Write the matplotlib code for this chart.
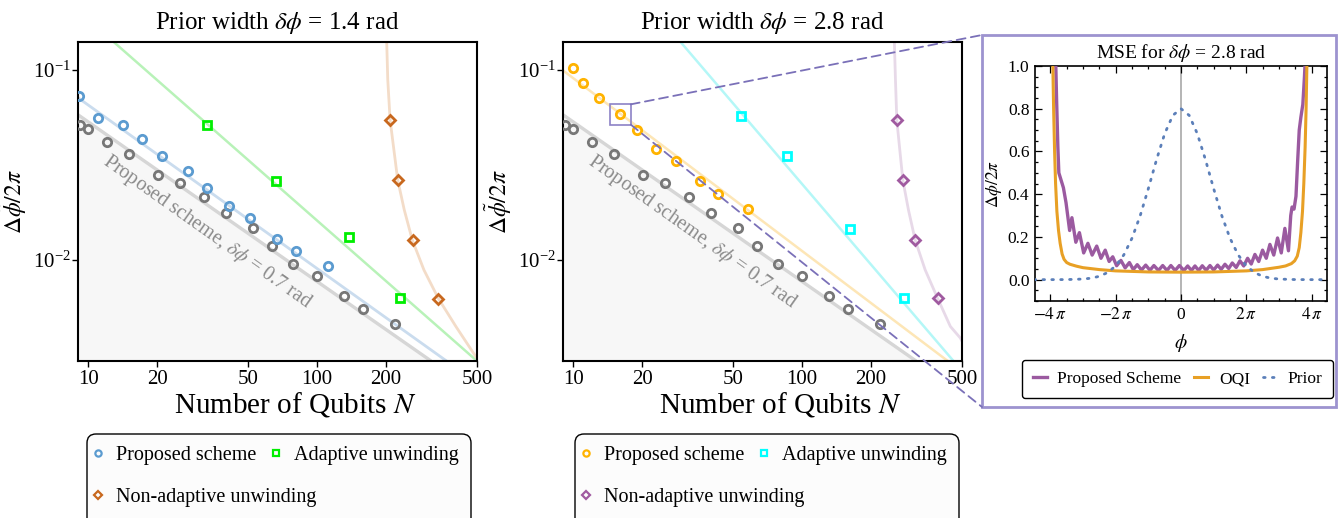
import numpy as np
import matplotlib
matplotlib.use("Agg")
import matplotlib.pyplot as plt
from matplotlib.lines import Line2D
from matplotlib.patches import Rectangle, FancyBboxPatch, ConnectionPatch
from matplotlib.transforms import IdentityTransform
import matplotlib.ticker as mt

plt.rcParams['font.family'] = ['Liberation Serif', 'DejaVu Serif']
plt.rcParams['mathtext.fontset'] = 'stix'

# ---------------- data: left panel (prior width 1.4 rad) ----------------
gray_N = [9.14, 10.0, 12.06, 15.1, 20.1, 25.1, 32.0, 39.9, 52.4, 63.4, 78.8, 100, 130.9, 158.9, 219]
gray_y = [0.0514, 0.0488, 0.0416, 0.0360, 0.0278, 0.0254, 0.0214, 0.0177, 0.0147, 0.0119,
          0.00953, 0.00826, 0.00647, 0.00554, 0.00460]
gray_line_N = [9.0, 315]
gray_line_y = [0.058, 0.00294]

blue_N = [9.1, 11.0, 14.1, 17.1, 21.0, 27.2, 33.1, 41.1, 51.0, 66.8, 80.7, 111]
blue_y = [0.0730, 0.0561, 0.0512, 0.0430, 0.0354, 0.0295, 0.0240, 0.0192, 0.0167, 0.0129, 0.0112, 0.00927]
blue_line_N = [9.04, 368]
blue_line_y = [0.0710, 0.00294]

green_N = [33.1, 65.8, 137.5, 229.7]
green_y = [0.0512, 0.0260, 0.0132, 0.00631]
green_line_N = [12.9, 500]
green_line_y = [0.140, 0.00294]

orange_N = [207.7, 225, 261.7, 338.6]
orange_y = [0.0546, 0.0264, 0.0127, 0.00626]
orange_curve_N = [201.2, 201.5, 203.6, 208.4, 225, 240.4, 260.6, 293, 338.6, 404.6, 494]
orange_curve_y = [0.16, 0.1382, 0.0886, 0.0546, 0.02636, 0.01833, 0.01274, 0.00886, 0.00628, 0.00446, 0.0031]

# ---------------- data: right panel (prior width 2.8 rad) ----------------
yellow_N = [10.0, 11.03, 12.96, 16.0, 18.97, 22.9, 28.0, 35.8, 43.0, 57.9]
yellow_y = [0.1019, 0.0855, 0.0707, 0.0588, 0.0481, 0.0382, 0.0332, 0.0259, 0.0223, 0.0185]
yellow_line_N = [9.0, 430]
yellow_line_y = [0.0992, 0.00296]

cyan_N = [53.8, 85.7, 162.4, 280]
cyan_y = [0.0569, 0.0352, 0.01455, 0.00632]
cyan_line_N = [29.4, 459]
cyan_line_y = [0.140, 0.00294]

purple_N = [259.4, 277.3, 312, 391]
purple_y = [0.0542, 0.0263, 0.0127, 0.00628]
purple_curve_N = [253.0, 253.2, 255.9, 259.4, 275.6, 291.7, 312, 345, 391, 444.6, 492, 520]
purple_curve_y = [0.16, 0.1368, 0.0879, 0.0542, 0.02627, 0.0183, 0.01273, 0.00887, 0.00629, 0.00447, 0.00388, 0.0034]

x_ticks = [10, 20, 50, 100, 200, 500]
x_tick_labels = ['10', '20', '50', '100', '200', '500']

# ---------------- data: inset (MSE, x in units of pi) ----------------
prop_x = [-3.84, -3.81, -3.77, -3.74, -3.68, -3.60, -3.52, -3.41, -3.34, -3.22, -3.11, -2.98, -2.85,
          -2.72, -2.58, -2.45, -2.32, -2.20, -2.09, -1.97, -1.84, -1.71, -1.58, -1.46, -1.34, -1.21,
          -1.08, -0.95, -0.83, -0.69, -0.56, -0.43, -0.31, -0.18, -0.05,
          0.09, 0.204, 0.32, 0.428, 0.54, 0.652, 0.77, 0.887, 1.00, 1.121, 1.23, 1.346, 1.46, 1.570,
          1.69, 1.805, 1.92, 2.039, 2.15, 2.263, 2.38, 2.497, 2.61, 2.722, 2.84, 2.956, 3.07, 3.18,
          3.29, 3.36, 3.40, 3.46, 3.52, 3.57, 3.62, 3.67, 3.73, 3.78, 3.81]
prop_y = [1.05, 0.85, 0.62, 0.50, 0.47, 0.43, 0.36, 0.23, 0.29, 0.175, 0.22, 0.125, 0.17,
          0.115, 0.157, 0.10, 0.138, 0.085, 0.107, 0.065, 0.090, 0.055, 0.080, 0.047, 0.070, 0.045,
          0.068, 0.044, 0.066, 0.043, 0.066, 0.043, 0.066, 0.043, 0.066,
          0.043, 0.064, 0.043, 0.064, 0.043, 0.065, 0.044, 0.066, 0.045, 0.068, 0.048, 0.072, 0.052,
          0.078, 0.057, 0.088, 0.064, 0.10, 0.073, 0.118, 0.085, 0.138, 0.10, 0.165, 0.115, 0.195,
          0.125, 0.24, 0.135, 0.30, 0.34, 0.33, 0.39, 0.55, 0.70, 0.76, 0.82, 0.95, 1.05]

oqi_x = [-3.93, -3.90, -3.87, -3.84, -3.80, -3.75, -3.70, -3.64, -3.58, -3.50, -3.40, -3.20, -3.00,
         -2.50, -2.00, -1.00, 0.0, 1.0, 2.0, 2.5, 3.0, 3.2, 3.38, 3.48, 3.56, 3.62, 3.67, 3.72,
         3.76, 3.80, 3.83, 3.86]
oqi_y = [1.05, 0.80, 0.60, 0.45, 0.32, 0.23, 0.17, 0.12, 0.095, 0.08, 0.072, 0.063, 0.056,
         0.047, 0.041, 0.036, 0.035, 0.036, 0.041, 0.047, 0.058, 0.064, 0.075, 0.088, 0.11, 0.15,
         0.22, 0.32, 0.45, 0.62, 0.80, 1.05]

prior_x = [-4.5, -4.0, -3.5, -3.0, -2.75, -2.5, -2.25, -2.0, -1.75, -1.5, -1.25, -1.0, -0.75, -0.5,
           -0.25, 0.0, 0.25, 0.5, 0.75, 1.0, 1.25, 1.5, 1.75, 2.0, 2.25, 2.5, 2.75, 3.0, 3.5, 4.0, 4.5]
prior_y = [0.0, 0.0, 0.0003, 0.0028, 0.0068, 0.0156, 0.033, 0.064, 0.116, 0.194, 0.299, 0.426, 0.561,
           0.683, 0.769, 0.80, 0.769, 0.683, 0.561, 0.426, 0.299, 0.194, 0.116, 0.064, 0.033, 0.0156,
           0.0068, 0.0028, 0.0003, 0.0, 0.0]

W, H = 1338, 518
fig = plt.figure(figsize=(W / 100, H / 100), dpi=100)


def fbox(x0, y0, x1, y1):
    return [x0 / W, 1 - y1 / H, (x1 - x0) / W, (y1 - y0) / H]


ax1 = fig.add_axes(fbox(78, 42, 477, 361))
ax2 = fig.add_axes(fbox(563, 42, 962, 361))
ax3 = fig.add_axes(fbox(1035, 66, 1327, 301))

MS_C, MS_S, MS_D, MEW = 6.0, 6.0, 5.0, 2.0


def style_main(ax, title):
    ax.set_xscale('log')
    ax.set_yscale('log')
    ax.set_xlim(9, 500)
    ax.set_ylim(0.00294, 0.14)
    ax.set_xticks(x_ticks)
    ax.set_xticklabels(x_tick_labels)
    ax.set_yticks([1e-2, 1e-1])
    ax.xaxis.set_minor_locator(mt.NullLocator())
    ax.yaxis.set_minor_locator(mt.NullLocator())
    ax.tick_params(which='major', direction='out', length=4.5, width=1.0, labelsize=15,
                   top=False, right=False)
    ax.tick_params(axis='y', pad=1)
    ax.tick_params(axis='x', pad=2)
    for s in ax.spines.values():
        s.set_linewidth(1.5)
    ax.set_title(title, fontsize=18, pad=9)
    ax.set_xlabel('Number of Qubits $N$', fontsize=21)
    ax.xaxis.set_label_coords(0.545, -0.09)
    ax.set_ylabel(r'$\Delta\tilde{\phi}/2\pi$', fontsize=17)
    ax.yaxis.set_label_coords(-0.123, 0.5)


def gray_part(ax):
    ax.fill_between(gray_line_N, gray_line_y, 1e-4, color='#f7f7f7', zorder=0, lw=0)
    ax.plot(gray_line_N, gray_line_y, color='#d6d6d6', lw=2.4, zorder=1, solid_capstyle='butt')
    ax.plot(gray_N, gray_y, ls='none', marker='o', ms=MS_C, mew=MEW, mfc='none', mec='#777777', zorder=4)
    ax.text(0.325, 0.405, r'Proposed scheme, $\delta\phi$ = 0.7 rad', transform=ax.transAxes,
            rotation=-35.3, rotation_mode='anchor', ha='center', va='center', fontsize=14.5,
            color='#8a8a8a', zorder=2)


# ----- left panel -----
gray_part(ax1)
ax1.plot(blue_line_N, blue_line_y, color='#cadcee', lw=2.0, zorder=1)
ax1.plot(green_line_N, green_line_y, color='#b8f2b8', lw=1.8, zorder=1)
ax1.plot(orange_curve_N, orange_curve_y, color='#f3dcc8', lw=2.0, zorder=1)
ax1.plot(blue_N, blue_y, ls='none', marker='o', ms=MS_C, mew=MEW, mfc='none', mec='#5b9bd0', zorder=5)
ax1.plot(green_N, green_y, ls='none', marker='s', ms=MS_S, mew=MEW, mfc='none', mec='#00ee00', zorder=5)
ax1.plot(orange_N, orange_y, ls='none', marker='D', ms=MS_D, mew=MEW, mfc='none', mec='#c8681e', zorder=5)
style_main(ax1, r'Prior width $\delta\phi$ = 1.4 rad')

# ----- right panel -----
gray_part(ax2)
ax2.plot(yellow_line_N, yellow_line_y, color='#fde6b6', lw=1.8, zorder=1)
ax2.plot(cyan_line_N, cyan_line_y, color='#b4f7f7', lw=1.8, zorder=1)
ax2.plot(purple_curve_N, purple_curve_y, color='#e7d9e8', lw=2.0, zorder=1)
ax2.plot(yellow_N, yellow_y, ls='none', marker='o', ms=MS_C, mew=MEW, mfc='none', mec='#ffb300', zorder=5)
ax2.plot(cyan_N, cyan_y, ls='none', marker='s', ms=MS_S, mew=MEW, mfc='none', mec='#00ffff', zorder=5)
ax2.plot(purple_N, purple_y, ls='none', marker='D', ms=MS_D, mew=MEW, mfc='none', mec='#a05aa0', zorder=5)
style_main(ax2, r'Prior width $\delta\phi$ = 2.8 rad')

# zoom rectangle and connectors
conn_col = '#7a70b8'
ax2.add_patch(Rectangle((14.45, 0.0515), 17.8 - 14.45, 0.0658 - 0.0515, fill=False,
                        ec='#8c82c6', lw=1.2, zorder=6))
for yA, yB in [(0.0658, 483), (0.0515, 111)]:
    con = ConnectionPatch(xyA=(17.8, yA), coordsA=ax2.transData,
                          xyB=(982 / W, yB / H), coordsB=fig.transFigure,
                          color=conn_col, lw=1.3, ls=(0, (5, 3)), zorder=7)
    fig.add_artist(con)

# inset frame
fig.add_artist(Rectangle((982 / W, 111 / H), 354 / W, 372 / H, transform=fig.transFigure,
                         fill=True, fc='white', ec='#9d93cf', lw=2.0, zorder=0))


# ----- legends (main panels) -----
def main_legend(x0, cols):
    box = FancyBboxPatch((x0, -20), 384, 104, boxstyle='round,pad=0,rounding_size=9',
                         transform=IdentityTransform(), fc='#fcfcfc', ec='black', lw=1.0, zorder=0)
    fig.add_artist(box)
    hC = Line2D([], [], ls='none', marker='o', ms=4.5, mew=1.6, mfc='none', mec=cols[0])
    hS = Line2D([], [], ls='none', marker='s', ms=4.5, mew=1.6, mfc='none', mec=cols[1])
    hD = Line2D([], [], ls='none', marker='D', ms=4.0, mew=1.6, mfc='none', mec=cols[2])
    kw = dict(frameon=False, fontsize=14.5, handlelength=0.8, handletextpad=0.5, borderpad=0,
              borderaxespad=0, loc='center left', bbox_transform=fig.transFigure)
    fig.legend([hC, hS], ['Proposed scheme', 'Adaptive unwinding'], ncol=2, columnspacing=0.55,
               bbox_to_anchor=((x0 + 3) / W, 1 - 455 / H), **kw)
    fig.legend([hD], ['Non-adaptive unwinding'], ncol=1,
               bbox_to_anchor=((x0 + 3) / W, 1 - 497 / H), **kw)


main_legend(87, ['#5b9bd0', '#00ee00', '#c8681e'])
main_legend(575, ['#ffb300', '#00ffff', '#a05aa0'])

# ----- inset -----
ax3.axvline(0, color='#a8a8a8', lw=1.2, zorder=1)
l1, = ax3.plot(prop_x, prop_y, color='#9b5aa0', lw=2.4, zorder=3, label='Proposed Scheme')
l2, = ax3.plot(oqi_x, oqi_y, color='#e8a025', lw=2.2, zorder=4, label='OQI')
l3, = ax3.plot(prior_x, prior_y, color='#5b7fb9', lw=2.0, ls=(0, (0.6, 2.6)),
               dash_capstyle='round', zorder=5, label='Prior')
ax3.set_xlim(-4.47, 4.47)
ax3.set_ylim(-0.1, 1.0)
ax3.set_xticks([-4, -2, 0, 2, 4])
ax3.set_xticklabels([r'$-4\,\pi$', r'$-2\,\pi$', '0', r'$2\,\pi$', r'$4\,\pi$'])
ax3.xaxis.set_minor_locator(mt.MultipleLocator(0.5))
ax3.set_yticks([0.0, 0.2, 0.4, 0.6, 0.8, 1.0])
ax3.set_yticklabels(['0.0', '0.2', '0.4', '0.6', '0.8', '1.0'])
ax3.yaxis.set_minor_locator(mt.MultipleLocator(0.05))
ax3.tick_params(which='both', direction='in', top=True, right=True, labelsize=12.5, width=0.9)
ax3.tick_params(which='major', length=5, pad=4)
ax3.tick_params(which='minor', length=2.5)
for s in ax3.spines.values():
    s.set_linewidth(1.2)
ax3.set_title(r'MSE for $\delta\phi$ = 2.8 rad', fontsize=14, pad=6)
ax3.set_xlabel(r'$\phi$', fontsize=14, labelpad=7)
ax3.set_ylabel(r'$\Delta\phi/2\pi$', fontsize=12.5, labelpad=3)

ileg = fig.legend([l1, l2, l3], ['Proposed Scheme', 'OQI', 'Prior'], ncol=3, loc='center',
                  bbox_to_anchor=(1177.5 / W, 1 - 379 / H), bbox_transform=fig.transFigure,
                  fontsize=12.5, handlelength=0.8, handletextpad=0.6, columnspacing=0.75,
                  frameon=True, fancybox=True, edgecolor='black', framealpha=1, borderpad=0.65)
ileg.get_frame().set_linewidth(1.0)

fig.savefig('out.png', dpi=100)
